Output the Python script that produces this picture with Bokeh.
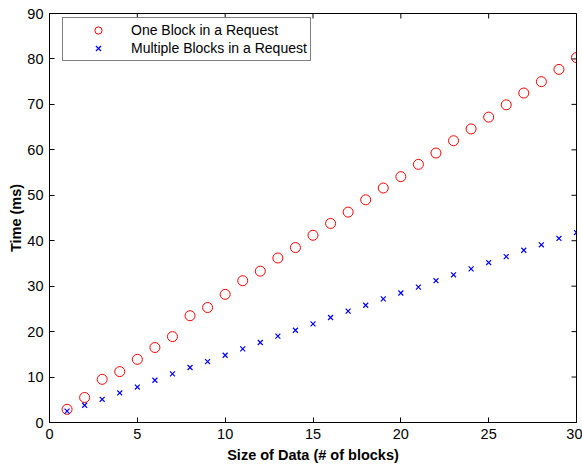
import math
from bokeh.plotting import figure
from bokeh.models import FixedTicker, Range1d, Legend, LegendItem
from bokeh.embed import file_html
from bokeh.resources import INLINE

x_vals = list(range(1, 31))
one_block = [2.9, 5.5, 9.5, 11.2, 13.9, 16.5, 18.9, 23.5, 25.3, 28.2,
             31.2, 33.3, 36.2, 38.5, 41.2, 43.8, 46.3, 49.0, 51.6, 54.1,
             56.8, 59.3, 62.0, 64.6, 67.2, 69.9, 72.5, 75.0, 77.7, 80.3]
multi_block = [2.5, 3.8, 5.1, 6.5, 7.8, 9.3, 10.7, 12.1, 13.4, 14.8,
               16.2, 17.6, 19.0, 20.3, 21.7, 23.1, 24.5, 25.8, 27.2, 28.5,
               29.8, 31.2, 32.5, 33.8, 35.2, 36.5, 37.9, 39.1, 40.5, 41.8]
x_ticks = [0, 5, 10, 15, 20, 25, 30]
y_ticks = [0, 10, 20, 30, 40, 50, 60, 70, 80, 90]
series_labels = ["One Block in a Request", "Multiple Blocks in a Request"]
x_label = "Size of Data (# of blocks)"
y_label = "Time (ms)"

FONT = "Liberation Sans"
X_MIN, X_MAX = 0, 30
Y_MIN, Y_MAX = 0, 90

p = figure(width=582, height=467, output_backend="svg", toolbar_location=None,
           x_range=Range1d(X_MIN, X_MAX), y_range=Range1d(Y_MIN, Y_MAX),
           min_border_left=49, min_border_right=6, min_border_top=13, min_border_bottom=45)
p.xgrid.visible = False
p.ygrid.visible = False
p.outline_line_color = "black"
p.outline_line_width = 1
p.background_fill_color = "white"
p.border_fill_color = "white"

def style_axis(ax, ticks):
    ax.ticker = FixedTicker(ticks=ticks)
    ax.major_tick_in = 5
    ax.major_tick_out = 0
    ax.minor_tick_line_color = None
    ax.axis_line_color = "black"
    ax.major_tick_line_color = "black"
    ax.major_label_text_font = FONT
    ax.major_label_text_font_size = "14.5px"
    ax.major_label_text_color = "black"
    ax.axis_label_text_font = FONT
    ax.axis_label_text_font_size = "14.5px"
    ax.axis_label_text_font_style = "bold"
    ax.axis_label_text_color = "black"

style_axis(p.xaxis[0], x_ticks)
style_axis(p.yaxis[0], y_ticks)
p.xaxis[0].axis_label = x_label
p.yaxis[0].axis_label = y_label
p.xaxis[0].major_label_standoff = 6
p.yaxis[0].major_label_standoff = 6
p.xaxis[0].axis_label_standoff = 5
p.yaxis[0].axis_label_standoff = 0

# top and right tick marks (mirror of bottom / left axes)
p.ray(x=x_ticks, y=[Y_MAX] * len(x_ticks), length=5, length_units="screen",
      angle=-math.pi / 2, line_color="black", line_width=1)
p.ray(x=[X_MAX] * len(y_ticks), y=y_ticks, length=5, length_units="screen",
      angle=math.pi, line_color="black", line_width=1)

r1 = p.scatter(x_vals, one_block, marker="circle", size=10, fill_color=None,
               line_color="red", line_width=1)
r2 = p.scatter(x_vals, multi_block, marker="x", size=7,
               line_color="blue", line_width=1.2)

legend = Legend(items=[LegendItem(label=series_labels[0], renderers=[r1]),
                       LegendItem(label=series_labels[1], renderers=[r2])],
                location=(13, 361))
legend.label_text_font = FONT
legend.label_text_font_size = "14px"
legend.label_text_color = "black"
legend.border_line_color = "black"
legend.border_line_width = 1
legend.background_fill_alpha = 1
legend.glyph_width = 64
legend.glyph_height = 18
legend.label_standoff = 1
legend.label_height = 18
legend.spacing = 0
legend.padding = 3
legend.margin = 0
p.add_layout(legend)

open("out.html", "w").write(file_html(p, INLINE))
